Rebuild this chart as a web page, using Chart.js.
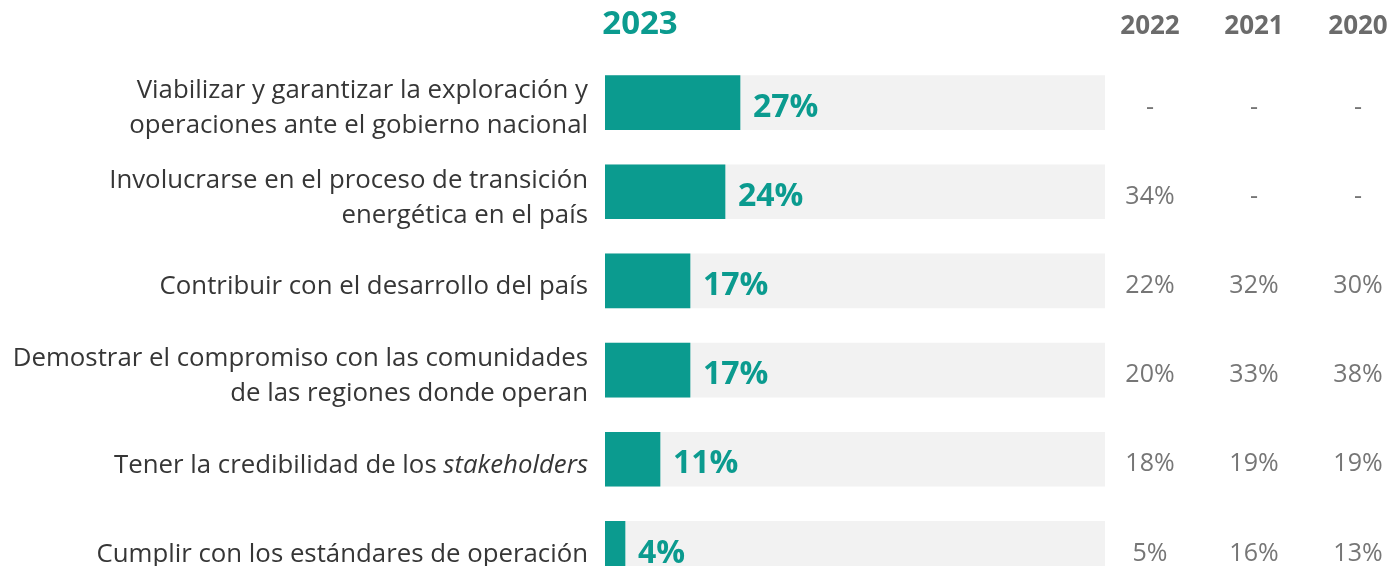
<!DOCTYPE html>
<html>
<head>
<meta charset="utf-8">
<script src="https://cdn.jsdelivr.net/npm/chart.js@4.4.0/dist/chart.umd.min.js"></script>
<style>
    html, body { margin: 0; padding: 0; background: #fff; overflow: hidden; }
    #wrap { position: relative; width: 1393px; height: 600px; }
</style>
</head>
<body>
<div id="wrap"><canvas id="chart"></canvas></div>
<script>
// Datos (texto entre *...* va en cursiva)
const categories = [
    ["Viabilizar y garantizar la exploración y", "operaciones ante el gobierno nacional"],
    ["Involucrarse en el proceso de transición", "energética en el país"],
    ["Contribuir con el desarrollo del país"],
    ["Demostrar el compromiso con las comunidades", "de las regiones donde operan"],
    ["Tener la credibilidad de los *stakeholders*"],
    ["Cumplir con los estándares de operación"],
];
const years = ["2023", "2022", "2021", "2020"];
const values2023 = [27, 24, 17, 17, 11, 4];
const values2022 = [null, 34, 22, 20, 18, 5];
const values2021 = [null, null, 32, 33, 19, 16];
const values2020 = [null, null, 30, 38, 19, 13];
const scaleMax = 100;

const TEAL = "#0b9b8f";
const FONT = "'Open Sans', sans-serif";

// columnas de años anteriores
const prevColumns = [
    { x: 1150, values: values2022 },
    { x: 1254, values: values2021 },
    { x: 1358, values: values2020 },
];

function splitSegments(line) {
    return line.split("*").map((t, i) => ({ text: t, italic: i % 2 === 1 })).filter((s) => s.text);
}

const tablePlugin = {
    id: "table",
    afterDatasetsDraw(chart) {
        const ctx = chart.ctx;
        const meta = chart.getDatasetMeta(0);
        ctx.save();
        ctx.textBaseline = "middle";

        // etiquetas de valor 2023
        ctx.font = `bold 32px ${FONT}`;
        ctx.fillStyle = TEAL;
        ctx.textAlign = "left";
        meta.data.forEach((bar, i) => {
            ctx.fillText(values2023[i] + "%", bar.x + 13, bar.y + 5);
        });

        // etiquetas de categoría
        ctx.fillStyle = "#363636";
        ctx.textAlign = "right";
        meta.data.forEach((bar, i) => {
            const lines = categories[i];
            const pitch = 35;
            const y0 = bar.y + 6 - ((lines.length - 1) * pitch) / 2;
            lines.forEach((line, j) => {
                let right = 588;
                const segs = splitSegments(line);
                for (let k = segs.length - 1; k >= 0; k--) {
                    ctx.font = `${segs[k].italic ? "italic " : ""}25.8px ${FONT}`;
                    ctx.fillText(segs[k].text, right, y0 + j * pitch);
                    right -= ctx.measureText(segs[k].text).width;
                }
            });
        });

        // años anteriores
        ctx.font = `25px ${FONT}`;
        ctx.fillStyle = "#767676";
        ctx.textAlign = "center";
        prevColumns.forEach((col) => {
            meta.data.forEach((bar, i) => {
                const v = col.values[i];
                ctx.fillText(v == null ? "-" : v + "%", col.x, bar.y + 5);
            });
        });

        // encabezados
        ctx.font = `bold 33px ${FONT}`;
        ctx.fillStyle = TEAL;
        ctx.fillText(years[0], 640, 25);
        ctx.font = `bold 26px ${FONT}`;
        ctx.fillStyle = "#6b6b6b";
        prevColumns.forEach((col, i) => {
            ctx.fillText(years[i + 1], col.x, 27);
        });
        ctx.restore();
    },
};

new Chart(document.getElementById("chart"), {
    type: "bar",
    data: {
        labels: categories.map((c) => c.join(" ")),
        datasets: [
            {
                data: values2023,
                backgroundColor: TEAL,
                barThickness: 54,
                grouped: false,
                order: 0,
            },
            {
                data: categories.map(() => scaleMax),
                backgroundColor: "#f2f2f2",
                barThickness: 54,
                grouped: false,
                order: 1,
            },
        ],
    },
    options: {
        indexAxis: "y",
        responsive: true,
        maintainAspectRatio: false,
        animation: false,
        layout: { padding: { top: 58, bottom: 7, left: 605, right: 288 } },
        plugins: {
            legend: { display: false },
            tooltip: { enabled: false },
        },
        scales: {
            x: { display: false, min: 0, max: scaleMax },
            y: { display: false },
        },
    },
    plugins: [tablePlugin],
});
</script>
</body>
</html>
